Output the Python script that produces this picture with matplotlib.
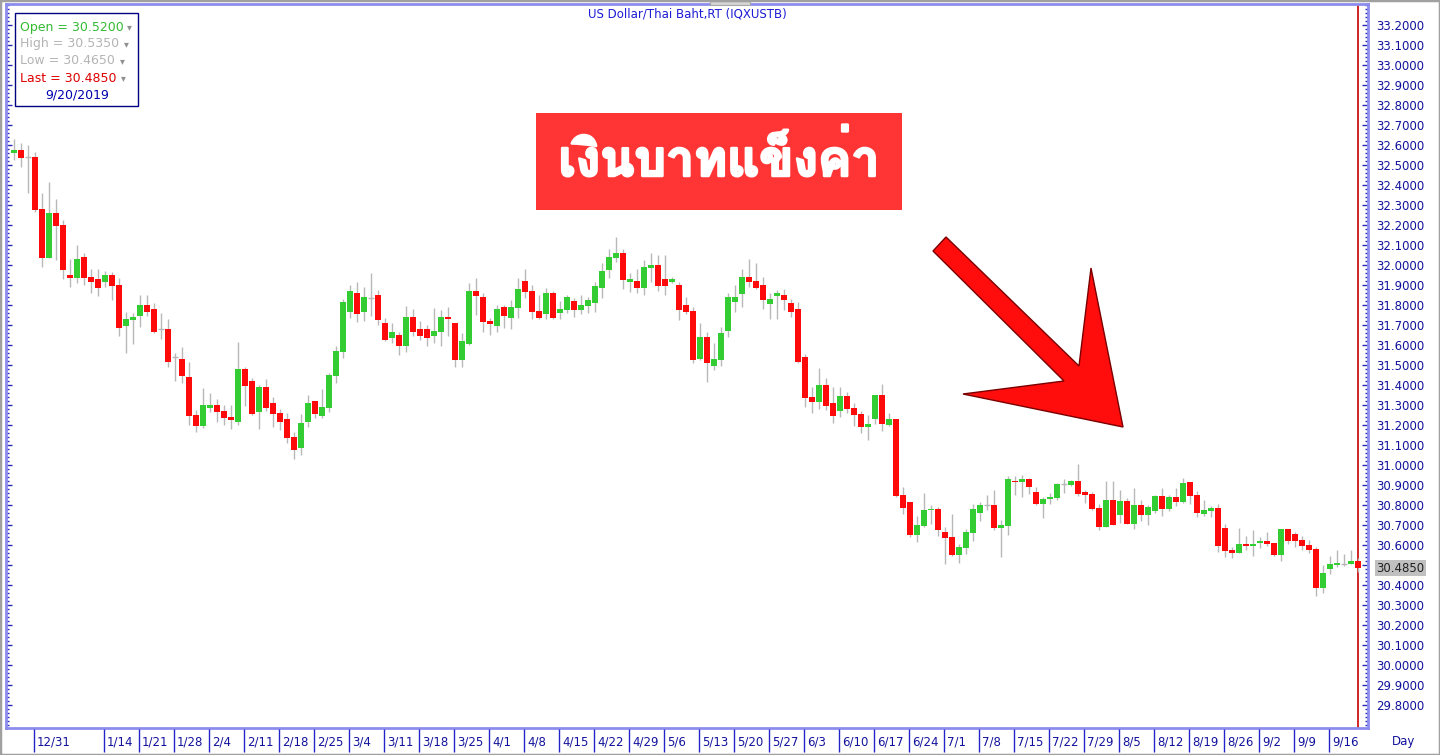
import matplotlib
matplotlib.use("Agg")
import matplotlib.pyplot as plt
import matplotlib.patheffects as pe
from matplotlib import font_manager, ft2font
from matplotlib.patches import Rectangle, Polygon
from matplotlib.ticker import MultipleLocator, FixedLocator, FormatStrFormatter
import numpy as np
import pandas as pd

# daily OHLC, USD/THB, 12/26/2018 - 9/20/2019
opens = [32.56, 32.575, 32.54, 32.54, 32.28, 32.035, 32.26, 32.2, 31.95, 31.935,
         32.04, 31.94, 31.93, 31.915, 31.95, 31.9, 31.695, 31.725, 31.745, 31.8,
         31.78, 31.68, 31.68, 31.54, 31.53, 31.44, 31.25, 31.195, 31.285, 31.3,
         31.27, 31.24, 31.215, 31.48, 31.42, 31.265, 31.39, 31.31, 31.26, 31.23,
         31.14, 31.085, 31.215, 31.32, 31.245, 31.285, 31.445, 31.565, 31.765, 31.86,
         31.765, 31.835, 31.85, 31.71, 31.635, 31.65, 31.595, 31.74, 31.68, 31.68,
         31.645, 31.665, 31.74, 31.71, 31.525, 31.605, 31.87, 31.84, 31.72, 31.695,
         31.79, 31.735, 31.785, 31.92, 31.87, 31.77, 31.755, 31.86, 31.76, 31.775,
         31.82, 31.775, 31.795, 31.81, 31.885, 31.975, 32.035, 32.06, 31.915, 31.92,
         31.885, 31.985, 32.0, 31.93, 31.915, 31.9, 31.8, 31.77, 31.53, 31.64,
         31.495, 31.525, 31.67, 31.815, 31.855, 31.94, 31.92, 31.9, 31.805, 31.845,
         31.85, 31.81, 31.78, 31.54, 31.34, 31.315, 31.4, 31.31, 31.27, 31.345,
         31.285, 31.255, 31.19, 31.23, 31.35, 31.2, 31.23, 30.85, 30.815, 30.65,
         30.695, 30.775, 30.78, 30.665, 30.64, 30.55, 30.585, 30.66, 30.76, 30.8,
         30.8, 30.685, 30.695, 30.92, 30.915, 30.93, 30.865, 30.805, 30.83, 30.835,
         30.905, 30.9, 30.92, 30.865, 30.855, 30.785, 30.69, 30.825, 30.75, 30.82,
         30.705, 30.8, 30.75, 30.77, 30.845, 30.78, 30.84, 30.815, 30.915, 30.85,
         30.755, 30.77, 30.785, 30.685, 30.575, 30.56, 30.605, 30.595, 30.61, 30.62,
         30.61, 30.55, 30.68, 30.655, 30.625, 30.6, 30.58, 30.385, 30.48, 30.5,
         30.505, 30.505, 30.52]
highs = [32.63, 32.61, 32.6, 32.565, 32.36, 32.415, 32.33, 32.225, 32.03, 32.1,
         32.06, 31.98, 31.98, 31.97, 31.965, 31.935, 31.765, 31.76, 31.85, 31.85,
         31.81, 31.76, 31.73, 31.56, 31.59, 31.515, 31.275, 31.385, 31.36, 31.33,
         31.3, 31.3, 31.615, 31.49, 31.435, 31.4, 31.43, 31.34, 31.28, 31.26,
         31.165, 31.255, 31.35, 31.32, 31.38, 31.46, 31.595, 31.83, 31.9, 31.915,
         31.89, 31.96, 31.875, 31.735, 31.71, 31.665, 31.795, 31.78, 31.72, 31.7,
         31.785, 31.775, 31.79, 31.71, 31.66, 31.91, 31.935, 31.86, 31.735, 31.8,
         31.8, 31.825, 31.935, 31.98, 31.9, 31.85, 31.885, 31.87, 31.82, 31.85,
         31.835, 31.85, 31.84, 31.915, 32.01, 32.08, 32.14, 32.08, 31.96, 31.98,
         32.025, 32.06, 32.05, 32.05, 31.94, 31.915, 31.84, 31.79, 31.71, 31.665,
         31.61, 31.69, 31.86, 31.9, 31.98, 32.03, 32.01, 31.94, 31.86, 31.875,
         31.88, 31.83, 31.815, 31.555, 31.39, 31.485, 31.435, 31.39, 31.39, 31.365,
         31.31, 31.27, 31.25, 31.35, 31.405, 31.26, 31.23, 30.89, 30.815, 30.745,
         30.86, 30.8, 30.79, 30.69, 30.755, 30.605, 30.68, 30.805, 30.815, 30.85,
         30.875, 30.725, 30.945, 30.945, 30.95, 30.935, 30.89, 30.84, 30.86, 30.91,
         30.93, 30.925, 31.005, 30.875, 30.865, 30.805, 30.92, 30.92, 30.875, 30.835,
         30.885, 30.825, 30.8, 30.85, 30.885, 30.85, 30.885, 30.935, 30.915, 30.87,
         30.825, 30.795, 30.805, 30.705, 30.59, 30.685, 30.645, 30.675, 30.64, 30.665,
         30.61, 30.68, 30.68, 30.665, 30.645, 30.625, 30.59, 30.5, 30.545, 30.575,
         30.555, 30.575, 30.535]
lows = [32.525, 32.49, 32.36, 32.265, 31.99, 32.035, 32.025, 31.93, 31.89, 31.91,
        31.9, 31.86, 31.845, 31.89, 31.825, 31.645, 31.56, 31.605, 31.69, 31.745,
        31.66, 31.63, 31.49, 31.42, 31.41, 31.2, 31.165, 31.185, 31.265, 31.215,
        31.2, 31.18, 31.2, 31.295, 31.25, 31.18, 31.27, 31.19, 31.175, 31.11,
        31.03, 31.05, 31.19, 31.235, 31.235, 31.265, 31.41, 31.535, 31.735, 31.715,
        31.72, 31.745, 31.7, 31.62, 31.61, 31.55, 31.565, 31.645, 31.625, 31.595,
        31.61, 31.595, 31.645, 31.49, 31.49, 31.6, 31.75, 31.665, 31.65, 31.665,
        31.685, 31.68, 31.735, 31.835, 31.73, 31.73, 31.73, 31.73, 31.73, 31.76,
        31.74, 31.755, 31.76, 31.765, 31.835, 31.935, 32.015, 31.88, 31.865, 31.86,
        31.85, 31.915, 31.87, 31.85, 31.91, 31.725, 31.755, 31.51, 31.525, 31.415,
        31.475, 31.495, 31.64, 31.765, 31.79, 31.89, 31.88, 31.78, 31.73, 31.73,
        31.775, 31.74, 31.51, 31.29, 31.26, 31.28, 31.275, 31.21, 31.24, 31.26,
        31.195, 31.16, 31.125, 31.205, 31.17, 31.195, 30.84, 30.755, 30.64, 30.615,
        30.69, 30.705, 30.645, 30.505, 30.545, 30.51, 30.555, 30.62, 30.72, 30.775,
        30.675, 30.54, 30.65, 30.85, 30.84, 30.855, 30.8, 30.735, 30.805, 30.825,
        30.86, 30.895, 30.845, 30.81, 30.775, 30.675, 30.69, 30.7, 30.71, 30.705,
        30.68, 30.72, 30.7, 30.76, 30.745, 30.77, 30.795, 30.81, 30.805, 30.74,
        30.745, 30.74, 30.565, 30.54, 30.535, 30.56, 30.575, 30.545, 30.585, 30.595,
        30.545, 30.52, 30.605, 30.59, 30.575, 30.56, 30.345, 30.36, 30.455, 30.49,
        30.495, 30.505, 30.465]
closes = [32.575, 32.535, 32.54, 32.275, 32.035, 32.26, 32.195, 31.975, 31.935, 32.03,
          31.935, 31.915, 31.885, 31.95, 31.895, 31.685, 31.73, 31.74, 31.8, 31.765,
          31.665, 31.68, 31.515, 31.54, 31.445, 31.245, 31.195, 31.3, 31.3, 31.265,
          31.235, 31.225, 31.48, 31.395, 31.255, 31.39, 31.285, 31.255, 31.215, 31.135,
          31.075, 31.21, 31.31, 31.255, 31.29, 31.45, 31.57, 31.815, 31.87, 31.755,
          31.84, 31.835, 31.725, 31.625, 31.665, 31.595, 31.74, 31.665, 31.645, 31.635,
          31.67, 31.74, 31.73, 31.525, 31.62, 31.87, 31.845, 31.715, 31.705, 31.78,
          31.745, 31.79, 31.88, 31.865, 31.765, 31.735, 31.86, 31.735, 31.78, 31.84,
          31.775, 31.8, 31.825, 31.895, 31.97, 32.04, 32.06, 31.925, 31.93, 31.885,
          31.99, 32.0, 31.895, 31.895, 31.93, 31.775, 31.765, 31.525, 31.64, 31.51,
          31.53, 31.66, 31.84, 31.84, 31.94, 31.915, 31.885, 31.825, 31.83, 31.86,
          31.825, 31.765, 31.515, 31.335, 31.315, 31.4, 31.295, 31.245, 31.345, 31.28,
          31.25, 31.19, 31.205, 31.35, 31.205, 31.23, 30.845, 30.785, 30.65, 30.7,
          30.775, 30.78, 30.675, 30.635, 30.55, 30.59, 30.665, 30.78, 30.8, 30.8,
          30.685, 30.7, 30.93, 30.915, 30.93, 30.89, 30.805, 30.83, 30.84, 30.905,
          30.905, 30.92, 30.855, 30.85, 30.78, 30.69, 30.825, 30.7, 30.82, 30.705,
          30.8, 30.75, 30.79, 30.845, 30.78, 30.84, 30.815, 30.91, 30.845, 30.76,
          30.775, 30.785, 30.595, 30.57, 30.56, 30.605, 30.595, 30.605, 30.62, 30.605,
          30.55, 30.68, 30.62, 30.62, 30.595, 30.575, 30.385, 30.46, 30.505, 30.51,
          30.505, 30.52, 30.485]

dates = pd.bdate_range("2018-12-26", "2019-09-20")
week_labels = ["12/31", "1/14", "1/21", "1/28", "2/4", "2/11", "2/18", "2/25", "3/4",
               "3/11", "3/18", "3/25", "4/1", "4/8", "4/15", "4/22", "4/29", "5/6",
               "5/13", "5/20", "5/27", "6/3", "6/10", "6/17", "6/24", "7/1", "7/8",
               "7/15", "7/22", "7/29", "8/5", "8/12", "8/19", "8/26", "9/2", "9/9", "9/16"]
price_ticks = np.round(np.arange(29.8, 33.2001, 0.1), 1)

title = "US Dollar/Thai Baht,RT (IQXUSTB)"
headline = "เงินบาทแข็งค่า"
last_date = "9/20/2019"


def thai_family():
    # first installed font that actually has Thai glyphs
    for f in font_manager.fontManager.ttflist:
        try:
            if 0x0E07 in ft2font.FT2Font(f.fname).get_charmap():
                return f.name
        except Exception:
            pass
    return "DejaVu Sans"


W, H = 1440, 755
BLUE_TXT = "#12129c"
FRAME = "#8c8cee"


def fx(x):
    return x / W


def fy(y):
    return 1 - y / H


fig = plt.figure(figsize=(W / 100, H / 100), dpi=100)
fig.patch.set_facecolor("white")

# main price panel: spines at x=5.5 / 1368, y=3.5 / 727.5 (pixels)
L, R, T, B = 5.5, 1368, 3.5, 727.5
ax = fig.add_axes([fx(L), fy(B), (R - L) / W, (B - T) / H])
ax.set_xlim((L - 14) / 7, (R - 14) / 7)
ax.set_ylim(33.2 - (B - 25) / 200, 33.2 - (T - 25) / 200)

o = np.array(opens)
h = np.array(highs)
lo = np.array(lows)
c = np.array(closes)
x = np.arange(len(o))
up = c > o
dn = c < o
eq = c == o

ax.axvline(x[-1], color="#c80000", lw=1.2, zorder=1)
ax.vlines(x, lo, h, color="#b8b8b8", lw=1, zorder=2)
ax.bar(x[up], (c - o)[up], bottom=o[up], width=0.72, color="#33cc33", lw=0, zorder=3)
ax.bar(x[dn], (o - c)[dn], bottom=c[dn], width=0.72, color="#ff0a0a", lw=0, zorder=3)
ax.hlines(o[eq], x[eq] - 0.36, x[eq] + 0.36, color="#b8b8b8", lw=1, zorder=3)

ax.yaxis.set_major_locator(FixedLocator(price_ticks))
ax.yaxis.set_minor_locator(MultipleLocator(0.02))
ax.yaxis.set_major_formatter(FormatStrFormatter("%.4f"))
ax.tick_params(axis="y", which="both", direction="in", left=True, right=True,
               labelleft=False, labelright=True, colors="#2a2ab4",
               labelcolor=BLUE_TXT, labelsize=8.5, pad=6)
ax.tick_params(axis="y", which="major", length=4.5, width=1)
ax.tick_params(axis="y", which="minor", length=2.2, width=1)
ax.tick_params(axis="x", which="both", bottom=False, labelbottom=False)
for s in ax.spines.values():
    s.set_color(FRAME)
    s.set_linewidth(2)

ax.annotate(f"{c[-1]:.4f}", xy=(1, c[-1]), xycoords=("axes fraction", "data"),
            xytext=(6, 0), textcoords="offset points", ha="left", va="center",
            fontsize=8.5, color="#202020", annotation_clip=False,
            bbox=dict(boxstyle="square,pad=0.15", fc="#c0c0c0", ec="none"))

# date strip under the panel
ax2 = fig.add_axes([fx(L), 0, (R - L) / W, (H - B) / H], sharex=ax)
ax2.set_ylim(0, 1)
ax2.axis("off")
sep = []
for lab in week_labels:
    m, d = map(int, lab.split("/"))
    sep.append(dates.get_loc(pd.Timestamp(2018 if m == 12 else 2019, m, d)))
sep = np.array(sep)
ax2.vlines(sep - 0.1, 0.11, 0.93, color="#2424c8", lw=1)
for s, lab in zip(sep, week_labels):
    ax2.text(s + 0.3, 0.46, lab, ha="left", va="center", fontsize=8.5, color=BLUE_TXT)
fig.text(fx(1392), fy(742), "Day", ha="left", va="center", fontsize=8.5, color=BLUE_TXT)

# title + little tab at the top
fig.patches.append(Rectangle((fx(710), fy(5)), 40 / W, 5 / H, transform=fig.transFigure,
                             fc="#d4d4d4", ec="#a8a8a8", lw=0.8))
fig.text(fx(687), fy(14), title, ha="center", va="center", fontsize=8.5, color="#1c1cd4")

# OHLC box top-left
fig.patches.append(Rectangle((fx(15), fy(106)), 123 / W, 93 / H, transform=fig.transFigure,
                             fc="white", ec="#000080", lw=1, zorder=5))
rows = [(f"Open = {o[-1]:.4f}", "#33bb33", 129),
        (f"High = {h[-1]:.4f}", "#b4b4b4", 126),
        (f"Low = {lo[-1]:.4f}", "#b4b4b4", 122),
        (f"Last = {c[-1]:.4f}", "#dd0000", 123)]
for i, (txt, col, ax_) in enumerate(rows):
    yy = 27 + 17 * i
    fig.text(fx(20), fy(yy), txt, ha="left", va="center", fontsize=9, color=col, zorder=6)
    fig.text(fx(ax_), fy(yy), "▾", ha="center", va="center", fontsize=7, color="#909090", zorder=6)
fig.text(fx(77), fy(95), last_date, ha="center", va="center", fontsize=9, color="#0000b0", zorder=6)

# red headline box
fig.patches.append(Rectangle((fx(536), fy(210)), 366 / W, 97 / H, transform=fig.transFigure,
                             fc="#ff3535", ec="none", zorder=5))
fig.text(fx(719), fy(159), headline, ha="center", va="center", fontsize=36,
         fontweight="bold", color="white", family=[thai_family(), "DejaVu Sans"], zorder=6,
         path_effects=[pe.withStroke(linewidth=1.8, foreground="white")])

# big red arrow
arrow_px = [(946, 237), (1079, 366), (1091, 268), (1123, 427), (963, 394), (1064, 381), (933, 251)]
fig.patches.append(Polygon([(fx(a), fy(b)) for a, b in arrow_px], closed=True,
                           transform=fig.transFigure, fc="#ff0d0d", ec="#7a0000", lw=1, zorder=5))

# window border
fig.patches.append(Rectangle((0, 0), 1, 1, transform=fig.transFigure, fill=False,
                             ec="#a0a0a0", lw=2.5, zorder=7))

fig.savefig("out.png", dpi=100)
